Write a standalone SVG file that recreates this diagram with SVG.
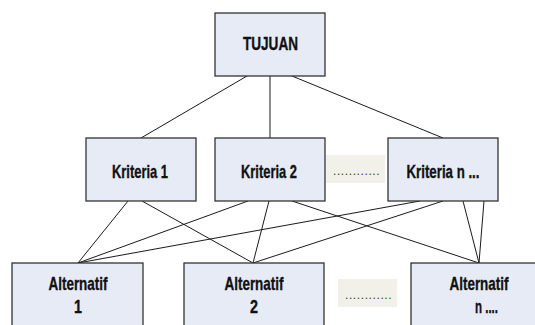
<svg xmlns="http://www.w3.org/2000/svg" width="535" height="325" viewBox="0 0 535 325">
  <style>
    .box { fill: #e6ebf6; stroke: #333333; stroke-width: 1.3; }
    .gap { fill: #f1f1ea; stroke: none; }
    .lbl { font-family: "Liberation Sans Narrow", "Liberation Sans", Arial, sans-serif; font-weight: bold; font-size: 19px; fill: #111111; stroke: #111111; stroke-width: 0.35; text-anchor: middle; }
    .dots { font-family: "Liberation Sans", Arial, sans-serif; font-size: 12px; fill: #3c3c3c; letter-spacing: 0.6px; }
    .edge { stroke: #1a1a1a; stroke-width: 1; fill: none; }
  </style>
  <rect width="535" height="325" fill="#ffffff"/>

  <g id="connectors">
    <!-- goal to criteria -->
    <line class="edge" x1="247" y1="76" x2="141" y2="138"/>
    <line class="edge" x1="270" y1="76" x2="270" y2="138"/>
    <line class="edge" x1="292" y1="76" x2="443" y2="138"/>
    <!-- criteria to alternatives -->
    <line class="edge" x1="128" y1="201" x2="78" y2="263"/>
    <line class="edge" x1="142" y1="201" x2="253" y2="263"/>
    <line class="edge" x1="248" y1="201" x2="78" y2="263"/>
    <line class="edge" x1="269" y1="201" x2="253" y2="263"/>
    <line class="edge" x1="292" y1="201" x2="479" y2="263"/>
    <line class="edge" x1="420" y1="201" x2="78" y2="263"/>
    <line class="edge" x1="443" y1="201" x2="253" y2="263"/>
    <line class="edge" x1="463" y1="201" x2="479" y2="263"/>
    <line class="edge" x1="484" y1="201" x2="479" y2="263"/>
  </g>

  <g id="tujuan">
    <rect class="box" x="215" y="13" width="110" height="63"/>
    <text class="lbl" x="270.5" y="49.5" textLength="55" lengthAdjust="spacingAndGlyphs">TUJUAN</text>
  </g>

  <g id="kriteria-1">
    <rect class="box" x="86" y="138" width="110" height="63"/>
    <text class="lbl" x="140" y="178" textLength="56" lengthAdjust="spacingAndGlyphs">Kriteria 1</text>
  </g>

  <g id="kriteria-2">
    <rect class="box" x="215" y="138" width="110" height="63"/>
    <text class="lbl" x="269" y="178" textLength="56" lengthAdjust="spacingAndGlyphs">Kriteria 2</text>
  </g>

  <g id="kriteria-gap">
    <rect class="gap" x="326" y="155" width="59" height="28"/>
    <text class="dots" x="333" y="175">............</text>
  </g>

  <g id="kriteria-n">
    <rect class="box" x="388" y="138" width="110" height="63"/>
    <text class="lbl" x="443" y="178" textLength="73" lengthAdjust="spacingAndGlyphs">Kriteria n ...</text>
  </g>

  <g id="alternatif-1">
    <rect class="box" x="12" y="263" width="131" height="75"/>
    <text class="lbl" x="78" y="290" textLength="59" lengthAdjust="spacingAndGlyphs">Alternatif</text>
    <text class="lbl" x="78" y="313" textLength="8" lengthAdjust="spacingAndGlyphs">1</text>
  </g>

  <g id="alternatif-2">
    <rect class="box" x="184" y="263" width="140" height="75"/>
    <text class="lbl" x="254" y="290" textLength="59" lengthAdjust="spacingAndGlyphs">Alternatif</text>
    <text class="lbl" x="254" y="313" textLength="8" lengthAdjust="spacingAndGlyphs">2</text>
  </g>

  <g id="alternatif-gap">
    <rect class="gap" x="338" y="279" width="59" height="28"/>
    <text class="dots" x="345" y="299">............</text>
  </g>

  <g id="alternatif-n">
    <rect class="box" x="411" y="263" width="135" height="75"/>
    <text class="lbl" x="479" y="290" textLength="59" lengthAdjust="spacingAndGlyphs">Alternatif</text>
    <text class="lbl" x="475" y="313" style="text-anchor:start" textLength="23" lengthAdjust="spacingAndGlyphs">n ....</text>
  </g>
</svg>
